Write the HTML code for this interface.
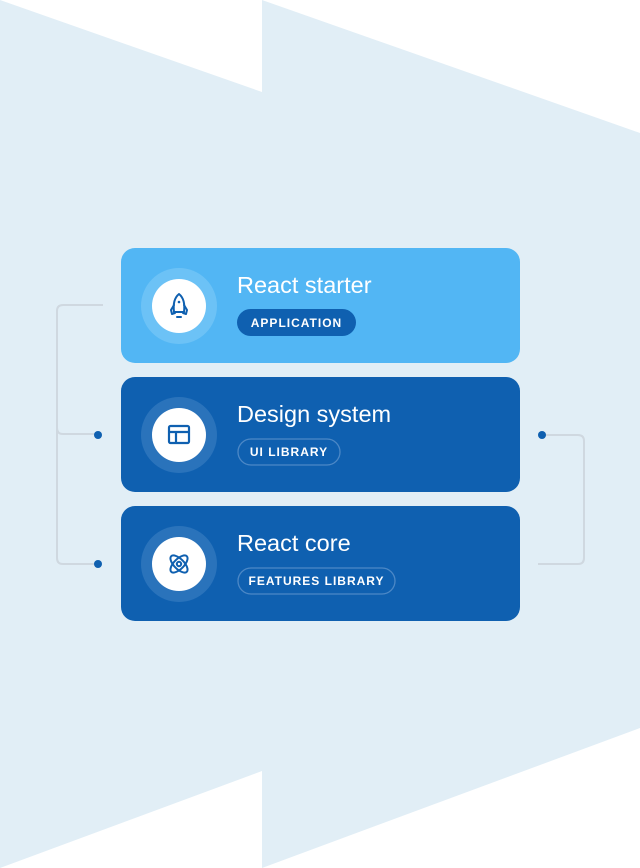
<!DOCTYPE html>
<html><head><meta charset="utf-8"><style>
html,body{margin:0;padding:0;width:640px;height:868px;overflow:hidden;background:#fff}
svg{display:block}
text{font-family:"Liberation Sans",sans-serif}
</style></head><body>
<svg width="640" height="868" viewBox="0 0 640 868" xmlns="http://www.w3.org/2000/svg">
<polygon points="0,0 262,92 262,771 0,868" fill="#e1eef6"/>
<polygon points="262,0 640,133 640,728 262,868" fill="#e1eef6"/>
<!-- connectors -->
<path d="M103,305 H63 Q57,305 57,311 V558 Q57,564 63,564 H98" fill="none" stroke="#cfd8e0" stroke-width="2"/>
<path d="M57,428 Q57,434 63,434 H98" fill="none" stroke="#cfd8e0" stroke-width="2"/>
<circle cx="98" cy="435" r="4" fill="#0f60b0"/>
<circle cx="98" cy="564" r="4" fill="#0f60b0"/>
<path d="M542,435 H578 Q584,435 584,441 V558 Q584,564 578,564 H538" fill="none" stroke="#cfd8e0" stroke-width="2"/>
<circle cx="542" cy="435" r="4" fill="#0f60b0"/>
<!-- card 1 -->
<rect x="121" y="248" width="399" height="115" rx="14" fill="#52b6f4"/>
<circle cx="179" cy="306" r="38" fill="#6cc2f6"/>
<circle cx="179" cy="306" r="27" fill="#fff"/>
<g fill="none" stroke="#0f60b0" stroke-width="2" stroke-linecap="round" stroke-linejoin="round">
<path d="M179,294 C174,298 173,304 174,312 H184 C185,304 184,298 179,294 Z"/>
<path d="M174,305 L171,310 L172,314 L175,313"/>
<path d="M184,305 L187,310 L186,314 L183,313"/>
<path d="M177,317 H181"/>
</g>
<circle cx="179" cy="302" r="1.3" fill="#0f60b0"/>
<text x="237" y="293" font-size="23.5" fill="#fff">React starter</text>
<rect x="237" y="309" width="119" height="27" rx="13.5" fill="#0f60b0"/>
<text x="296.5" y="327" font-size="12" font-weight="bold" fill="#fff" text-anchor="middle" letter-spacing="1">APPLICATION</text>
<!-- card 2 -->
<rect x="121" y="377" width="399" height="115" rx="14" fill="#0f60b0"/>
<circle cx="179" cy="435" r="38" fill="#2a73bb"/>
<circle cx="179" cy="435" r="27" fill="#fff"/>
<g fill="none" stroke="#0f60b0" stroke-width="2.2">
<rect x="169" y="426" width="20" height="17" rx="1.5"/>
<path d="M169,432 H189 M176,432 V443"/>
</g>
<text x="237" y="422" font-size="23.5" fill="#fff">Design system</text>
<rect x="238" y="439" width="102" height="26" rx="13" fill="none" stroke="#4c88c6" stroke-width="1.3"/>
<text x="289" y="456" font-size="12" font-weight="bold" fill="#fff" text-anchor="middle" letter-spacing="1">UI LIBRARY</text>
<!-- card 3 -->
<rect x="121" y="506" width="399" height="115" rx="14" fill="#0f60b0"/>
<circle cx="179" cy="564" r="38" fill="#2a73bb"/>
<circle cx="179" cy="564" r="27" fill="#fff"/>
<g fill="none" stroke="#0f60b0" stroke-width="2">
<ellipse cx="179" cy="564" rx="11" ry="5" transform="rotate(45 179 564)"/>
<ellipse cx="179" cy="564" rx="11" ry="5" transform="rotate(-45 179 564)"/>
<circle cx="179" cy="564" r="2.2"/>
</g>
<text x="237" y="551" font-size="23.5" fill="#fff">React core</text>
<rect x="238" y="568" width="157" height="26" rx="13" fill="none" stroke="#4c88c6" stroke-width="1.3"/>
<text x="316.5" y="585" font-size="12" font-weight="bold" fill="#fff" text-anchor="middle" letter-spacing="1">FEATURES LIBRARY</text>
</svg>
</body></html>
